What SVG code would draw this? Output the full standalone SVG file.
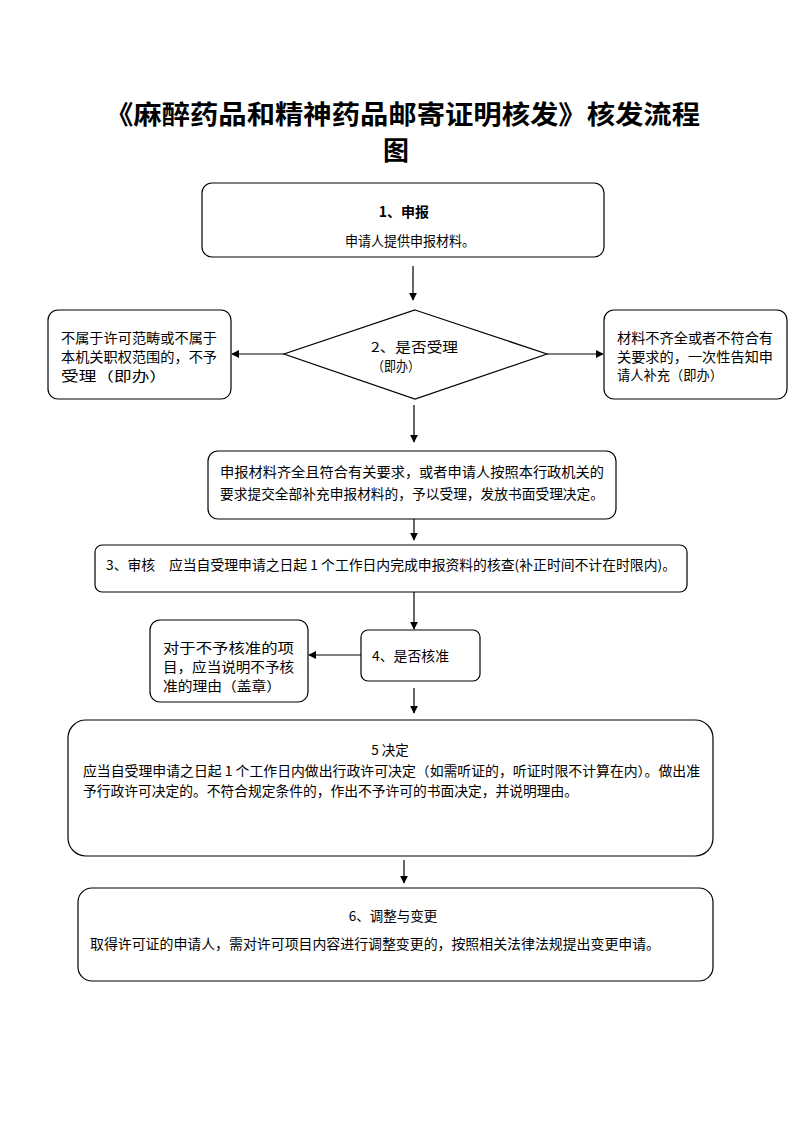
<svg xmlns="http://www.w3.org/2000/svg" width="793" height="1122" viewBox="0 0 793 1122">
<style>
.box{fill:#fff;stroke:#000;stroke-width:1.2}
.t{font-family:"Noto Sans CJK SC","Liberation Sans",sans-serif;font-size:13.5px;fill:#000}
.title{font-family:"Noto Sans CJK SC","Liberation Serif",serif;font-size:26px;font-weight:bold;fill:#000}
.b{font-weight:bold;font-size:14px}
.ln{stroke:#000;stroke-width:1.2;fill:none;marker-end:url(#ah)}
</style>
<defs>
<marker id="ah" viewBox="0 0 10 10" refX="9" refY="5" markerWidth="8" markerHeight="8" markerUnits="userSpaceOnUse" orient="auto">
<path d="M0,0 L10,5 L0,10 z" fill="#000"/>
</marker>
</defs>
<rect width="793" height="1122" fill="#fff"/>
<g id="title">
<text class="title" x="105" y="124" textLength="595" lengthAdjust="spacingAndGlyphs">《麻醉药品和精神药品邮寄证明核发》核发流程</text>
<text class="title" x="396" y="160" text-anchor="middle">图</text>
</g>
<g id="n1">
<rect class="box" x="202" y="183" width="402" height="74" rx="10"/>
<text class="t b" x="404" y="217" text-anchor="middle">1、申报</text>
<text class="t" x="345" y="246" textLength="130" lengthAdjust="spacingAndGlyphs">申请人提供申报材料。</text>
</g>
<g id="n2">
<polygon class="box" points="415,310 547,354 415,399 284,354"/>
<text class="t" x="371" y="352" textLength="87" lengthAdjust="spacingAndGlyphs">2、是否受理</text>
<text class="t" x="372" y="371" textLength="48" lengthAdjust="spacingAndGlyphs">（即办）</text>
</g>
<g id="n2l">
<rect class="box" x="48" y="310" width="183" height="89" rx="10"/>
<text class="t" x="61" y="343" textLength="156" lengthAdjust="spacingAndGlyphs">不属于许可范畴或不属于</text>
<text class="t" x="61" y="362" textLength="156" lengthAdjust="spacingAndGlyphs">本机关职权范围的，不予</text>
<text class="t" x="61" y="381" textLength="106" lengthAdjust="spacingAndGlyphs">受理（即办）</text>
</g>
<g id="n2r">
<rect class="box" x="604" y="310" width="183" height="89" rx="10"/>
<text class="t" x="617" y="343" textLength="156" lengthAdjust="spacingAndGlyphs">材料不齐全或者不符合有</text>
<text class="t" x="617" y="362" textLength="156" lengthAdjust="spacingAndGlyphs">关要求的，一次性告知申</text>
<text class="t" x="617" y="380" textLength="106" lengthAdjust="spacingAndGlyphs">请人补充（即办）</text>
</g>
<g id="n2a">
<rect class="box" x="208" y="451" width="408" height="68" rx="10"/>
<text class="t" x="220" y="477" textLength="384" lengthAdjust="spacingAndGlyphs">申报材料齐全且符合有关要求，或者申请人按照本行政机关的</text>
<text class="t" x="220" y="499" textLength="384" lengthAdjust="spacingAndGlyphs">要求提交全部补充申报材料的，予以受理，发放书面受理决定。</text>
</g>
<g id="n3">
<rect class="box" x="95" y="545" width="592" height="47" rx="7"/>
<text class="t" x="106" y="570" textLength="570" lengthAdjust="spacingAndGlyphs">3、审核　应当自受理申请之日起 1 个工作日内完成申报资料的核查(补正时间不计在时限内)。</text>
</g>
<g id="n4">
<rect class="box" x="361" y="630" width="119" height="51" rx="7"/>
<text class="t" x="372" y="661" textLength="77" lengthAdjust="spacingAndGlyphs">4、是否核准</text>
</g>
<g id="n4l">
<rect class="box" x="150" y="620" width="158" height="82" rx="10"/>
<text class="t" x="163" y="653" textLength="131" lengthAdjust="spacingAndGlyphs">对于不予核准的项</text>
<text class="t" x="163" y="672" textLength="131" lengthAdjust="spacingAndGlyphs">目，应当说明不予核</text>
<text class="t" x="163" y="691" textLength="118" lengthAdjust="spacingAndGlyphs">准的理由（盖章）</text>
</g>
<g id="n5">
<rect class="box" x="68" y="720" width="645" height="136" rx="18"/>
<text class="t" x="390" y="755" text-anchor="middle">5 决定</text>
<text class="t" x="83" y="776" textLength="617" lengthAdjust="spacingAndGlyphs">应当自受理申请之日起 1 个工作日内做出行政许可决定（如需听证的，听证时限不计算在内）。做出准</text>
<text class="t" x="83" y="796" textLength="495" lengthAdjust="spacingAndGlyphs">予行政许可决定的。不符合规定条件的，作出不予许可的书面决定，并说明理由。</text>
</g>
<g id="n6">
<rect class="box" x="78" y="888" width="635" height="93" rx="14"/>
<text class="t" x="393" y="921" text-anchor="middle">6、调整与变更</text>
<text class="t" x="90" y="949" textLength="570" lengthAdjust="spacingAndGlyphs">取得许可证的申请人，需对许可项目内容进行调整变更的，按照相关法律法规提出变更申请。</text>
</g>
<g id="connectors">
<line class="ln" x1="413" y1="266" x2="413" y2="300"/>
<line class="ln" x1="284" y1="354" x2="232" y2="354"/>
<line class="ln" x1="547" y1="354" x2="603" y2="354"/>
<line class="ln" x1="414" y1="405" x2="414" y2="442"/>
<line class="ln" x1="414" y1="519" x2="414" y2="540"/>
<line class="ln" x1="414" y1="592" x2="414" y2="629"/>
<line class="ln" x1="361" y1="655" x2="309" y2="655"/>
<line class="ln" x1="414" y1="688" x2="414" y2="713"/>
<line class="ln" x1="404" y1="860" x2="404" y2="883"/>
</g>
</svg>
